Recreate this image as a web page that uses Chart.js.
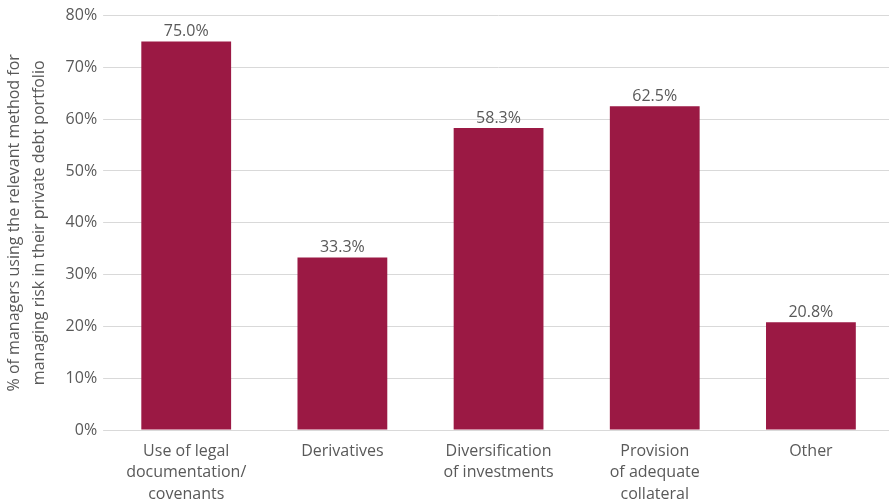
<!DOCTYPE html>
<html>
<head>
<meta charset="utf-8">
<script src="https://cdn.jsdelivr.net/npm/chart.js@4"></script>
<style>
html,body{margin:0;padding:0;background:#fff;}
#wrap{width:889px;height:504px;position:relative;}
</style>
</head>
<body>
<div id="wrap"><canvas id="c"></canvas></div>
<script>
const categories = [["Use of legal","documentation/","covenants"],"Derivatives",["Diversification","of investments"],["Provision","of adequate","collateral"],"Other"];
const values = [75.0, 33.3, 58.3, 62.5, 20.8];
const yTicks = [0,10,20,30,40,50,60,70,80];
const yTitle = ["% of managers using the relevant method for","managing risk in their private debt portfolio"];

const FONT = "'Open Sans', sans-serif";
const TXT = "#595959";

const labelPlugin = {
  id: 'valLabels',
  afterDatasetsDraw(chart){
    const ctx = chart.ctx;
    const meta = chart.getDatasetMeta(0);
    ctx.save();
    ctx.font = "16px " + FONT;
    ctx.fillStyle = TXT;
    ctx.textAlign = 'center';
    ctx.textBaseline = 'bottom';
    meta.data.forEach((bar,i)=>{
      ctx.fillText(values[i].toFixed(1)+'%', bar.x, bar.y-2);
    });
    ctx.restore();
  }
};

new Chart(document.getElementById('c'), {
  type: 'bar',
  data: {
    labels: categories,
    datasets: [{
      data: values,
      backgroundColor: '#9B1944',
      barPercentage: 0.575,
      categoryPercentage: 1.0
    }]
  },
  options: {
    responsive: true,
    maintainAspectRatio: false,
    animation: false,
    layout: {padding: {top: 11, right: 0, left: 2, bottom: 0}},
    plugins: {legend: {display:false}, tooltip:{enabled:false}},
    scales: {
      x: {
        afterFit(axis){ axis.height = 74; },
        grid: {display:false, drawTicks:false},
        border: {display:true, color:'#d9d9d9', width:1},
        ticks: {color: TXT, font:{family:FONT, size:16, lineHeight:1.33}, padding:11, maxRotation:0, autoSkip:false}
      },
      y: {
        min: 0, max: 80,
        afterBuildTicks(axis){ axis.ticks = yTicks.map(v=>({value:v})); },
        grid: {color:'#d9d9d9', lineWidth:1, drawTicks:true, tickLength:5, tickColor:'#d9d9d9'},
        border: {display:false},
        ticks: {color: TXT, font:{family:FONT, size:16}, padding:6, callback: v=>v+'%'},
        title: {display:true, text: yTitle, color: TXT, font:{family:FONT, size:16, lineHeight:1.55}, padding:{top:0,bottom:8}}
      }
    }
  },
  plugins: [labelPlugin]
});
</script>
</body>
</html>
